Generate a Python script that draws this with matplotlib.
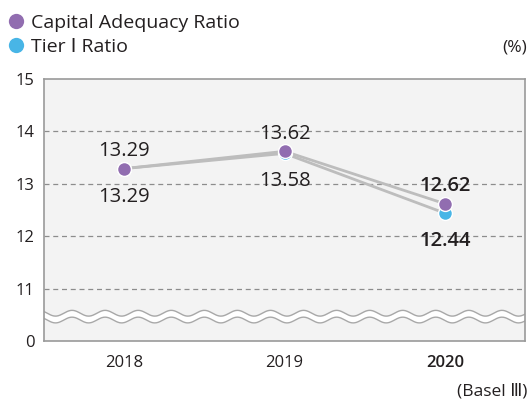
import numpy as np
import matplotlib
matplotlib.use("Agg")
import matplotlib.pyplot as plt
from matplotlib.lines import Line2D

plt.rcParams["font.family"] = ["Open Sans", "DejaVu Sans", "Noto Sans CJK JP"]

# data
years = ["2018", "2019", "2020"]
car_values = [13.29, 13.62, 12.62]
tier1_values = [13.29, 13.58, 12.44]
ytick_values = [11, 12, 13, 14, 15]
ytick_labels = ["0", "11", "12", "13", "14", "15"]
series_names = ["Capital Adequacy Ratio", "Tier \u2160 Ratio"]

PURPLE = "#916db0"
BLUE = "#48b5e6"
LINE = "#bdbdbd"
TEXT = "#231f20"
FRAME = "#9a9a9a"

fig = plt.figure(figsize=(5.29, 4.01), dpi=100)
ax = fig.add_axes([44 / 529, 60 / 401, 481 / 529, 262 / 401])
ax.set_facecolor("#f3f3f3")

x = np.arange(len(years))
ax.set_xlim(-0.5, len(years) - 0.5)
ax.set_ylim(10, 15)

# broken-axis: the bottom position stands for 0
ax.set_yticks([10] + ytick_values)
ax.set_yticklabels(ytick_labels)
for v in ytick_values[:-1]:
    ax.axhline(v, color="#8c8c8c", lw=0.9, ls=(0, (4, 3)), zorder=1)

# wavy break band
xs = np.linspace(-0.5, len(years) - 0.5, 600)
period = 33 / 160
wave = 0.055 * np.sin(2 * np.pi * (xs + 0.5 - 28 / 160) / period + np.pi / 2)
upper = 10.53 + wave
lower = 10.40 + wave
ax.fill_between(xs, lower, upper, color="white", lw=0, zorder=2)
ax.plot(xs, upper, color="#a8a8a8", lw=1, zorder=2)
ax.plot(xs, lower, color="#a8a8a8", lw=1, zorder=2)

# lines and markers
ax.plot(x, tier1_values, color=LINE, lw=2, zorder=3)
ax.plot(x, car_values, color=LINE, lw=2, zorder=3)
ax.plot(x, tier1_values, "o", color=BLUE, ms=10, mec="white", mew=1, zorder=4)
ax.plot(x, car_values, "o", color=PURPLE, ms=10, mec="white", mew=1, zorder=5)

# value labels
for i, (c, t) in enumerate(zip(car_values, tier1_values)):
    weight = "semibold" if i == len(years) - 1 else "normal"
    ax.annotate(f"{c:.2f}", (i, c), xytext=(0, 5.5), textcoords="offset points",
                ha="center", va="bottom", fontsize=14.5, color=TEXT, fontweight=weight, zorder=6)
    ax.annotate(f"{t:.2f}", (i, t), xytext=(0, -13), textcoords="offset points",
                ha="center", va="top", fontsize=14.5, color=TEXT, fontweight=weight, zorder=6)

ax.set_xticks(x)
ax.set_xticklabels(years)
for i, lbl in enumerate(ax.get_xticklabels()):
    if i == len(years) - 1:
        lbl.set_fontweight("semibold")
ax.tick_params(axis="both", length=0, labelsize=12, colors=TEXT)
ax.tick_params(axis="x", pad=10)
ax.tick_params(axis="y", pad=7)

for side in ["top", "right", "left", "bottom"]:
    ax.spines[side].set_color(FRAME)
    ax.spines[side].set_linewidth(1.2)

# legend
handles = [Line2D([], [], marker="o", ls="none", color=PURPLE, ms=11, mew=0),
           Line2D([], [], marker="o", ls="none", color=BLUE, ms=11, mew=0)]
fig.legend(handles, series_names, loc="upper left", bbox_to_anchor=(-0.011, 1.0),
           frameon=False, fontsize=14, handlelength=0.8, handletextpad=0.4,
           labelspacing=0.33, borderaxespad=0.3, labelcolor=TEXT)

fig.text(527 / 529, 1 - 47 / 401, "(%)", ha="right", va="center", fontsize=12.5, color=TEXT)
fig.text(527 / 529, 1 - 391 / 401, "(Basel \u2162)", ha="right", va="center", fontsize=12.5, color=TEXT)

fig.savefig("out.png", dpi=100)
